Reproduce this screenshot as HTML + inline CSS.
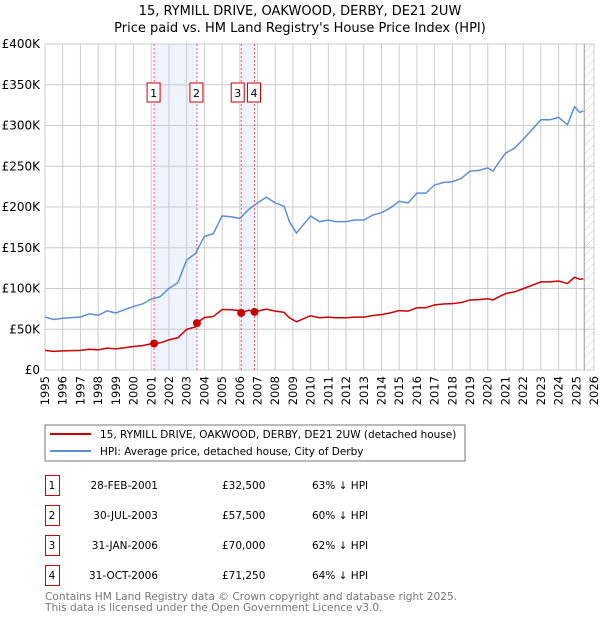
<!DOCTYPE html>
<html><head><meta charset="utf-8"><style>
body{margin:0;width:600px;height:620px;background:#fff;font-family:"DejaVu Sans","Liberation Sans",sans-serif;overflow:hidden}
svg text{font-family:"DejaVu Sans","Liberation Sans",sans-serif}
</style></head><body>
<svg id="c" width="600" height="620">
<defs><pattern id="hatch" width="6" height="6" patternUnits="userSpaceOnUse" patternTransform="rotate(45)"><line x1="0" y1="0" x2="0" y2="6" stroke="#ccc" stroke-width="1"/></pattern></defs>
<text x="300" y="15" font-size="13" text-anchor="middle">15, RYMILL DRIVE, OAKWOOD, DERBY, DE21 2UW</text>
<text x="300" y="32" font-size="13" text-anchor="middle">Price paid vs. HM Land Registry's House Price Index (HPI)</text>
<g id="grid"></g><g id="marks"></g>
<rect x="45" y="425" width="420" height="36" fill="#fff" stroke="#777"/>
<line x1="50" y1="434" x2="91" y2="434" stroke="#cc0000" stroke-width="2"/>
<text x="100" y="438" font-size="10.5">15, RYMILL DRIVE, OAKWOOD, DERBY, DE21 2UW (detached house)</text>
<line x1="50" y1="451" x2="91" y2="451" stroke="#5b8fd6" stroke-width="2"/>
<text x="100" y="455" font-size="10.5">HPI: Average price, detached house, City of Derby</text>
<g id="table" font-size="10.5"></g>
<text x="45" y="600" font-size="10.6" fill="#777">Contains HM Land Registry data © Crown copyright and database right 2025.</text>
<text x="45" y="611" font-size="10.6" fill="#777">This data is licensed under the Open Government Licence v3.0.</text>
</svg>
<script>
const hpiYears=[1995,1995.5,1996,1997,1997.5,1998,1998.5,1999,1999.5,2000,2000.5,2001,2001.5,2002,2002.5,2003,2003.5,2004,2004.5,2005,2005.5,2006,2006.5,2007,2007.5,2008,2008.5,2008.8,2009.2,2009.5,2010,2010.5,2011,2011.4,2012,2012.5,2013,2013.5,2014,2014.5,2015,2015.5,2016,2016.5,2017,2017.5,2018,2018.5,2019,2019.5,2020,2020.3,2020.6,2021,2021.5,2022,2022.5,2023,2023.5,2024,2024.5,2024.9,2025.2,2025.4];
const hpiValues=[65,62,63.5,65,69,67,72.5,70,74,78,81,87,90,100,107,135,143,164,167,189,188,186,197,205,212,205,201,182,168,176,189,182,184,182,182,184,184,190,193,199,207,205,217,217,227,230,231,235,244,245,248,244,254,266,272,283,295,307,307,310,301,323,316,318];
const saleLabels=["1","2","3","4"];
const saleYears=[2001.16,2003.58,2006.08,2006.83];
const salePrices=[32.5,57.5,70,71.25];
const saleDates=["28-FEB-2001","30-JUL-2003","31-JAN-2006","31-OCT-2006"];
const salePriceText=["£32,500","£57,500","£70,000","£71,250"];
const salePct=["63% ↓ HPI","60% ↓ HPI","62% ↓ HPI","64% ↓ HPI"];
const yTicks=[0,50,100,150,200,250,300,350,400];
const yTickLabels=["£0","£50K","£100K","£150K","£200K","£250K","£300K","£350K","£400K"];
const dataEnd=2025.45;

const X0=45,X1=594,Y0=370,Y1=44;
const xs=y=>X0+(y-1995)/31*(X1-X0);
const ys=v=>Y0-v/400*(Y0-Y1);
const NS='http://www.w3.org/2000/svg';
function mk(p,t,a){const e=document.createElementNS(NS,t);for(const k in a)e.setAttribute(k,a[k]);p.appendChild(e);return e;}
function hpiAt(y){if(y<=hpiYears[0])return hpiValues[0];for(let i=1;i<hpiYears.length;i++){if(y<=hpiYears[i]){const t=(y-hpiYears[i-1])/(hpiYears[i]-hpiYears[i-1]);return hpiValues[i-1]+t*(hpiValues[i]-hpiValues[i-1]);}}return hpiValues[hpiValues.length-1];}
const g=document.getElementById('grid'),m=document.getElementById('marks');
for(let i=0;i<saleYears.length;i+=2){const r=mk(g,'rect',{x:xs(saleYears[i]),y:Y1,width:xs(saleYears[i+1])-xs(saleYears[i]),height:Y0-Y1,fill:'#eef3fd'});

}
const h=mk(g,'rect',{x:xs(dataEnd),y:Y1,width:X1-xs(dataEnd),height:Y0-Y1,fill:'url(#hatch)'});


for(let yr=1995;yr<=2026;yr++){const l=mk(g,'line',{x1:xs(yr),x2:xs(yr),y1:Y1,y2:Y0,stroke:'#ccc'});


const t=mk(g,'text',{x:0,y:0,'font-size':11.5,'text-anchor':'end',transform:`translate(${xs(yr)+4},${Y0+6}) rotate(-90)`});t.textContent=yr;

}
yTicks.forEach((v,i)=>{const l=mk(g,'line',{x1:X0,x2:X1,y1:ys(v),y2:ys(v),stroke:'#ccc'});


const t=mk(g,'text',{x:X0-5,y:ys(v)+4,'font-size':12,'text-anchor':'end'});t.textContent=yTickLabels[i];

});
mk(g,'line',{x1:xs(dataEnd),x2:xs(dataEnd),y1:Y1,y2:Y0,stroke:'#999'});
const hp=mk(m,'polyline',{points:hpiYears.map((y,i)=>xs(y)+','+ys(hpiValues[i])).join(' '),fill:'none',stroke:'#5b8fd6','stroke-width':1.5});


const ratios=saleYears.map((y,i)=>salePrices[i]/hpiAt(y));
function ratioAt(y){let r=ratios[0];for(let i=0;i<saleYears.length;i++)if(y>=saleYears[i])r=ratios[i];return r;}
const pts=[];const allY=[...hpiYears,...saleYears].sort((a,b)=>a-b);
allY.forEach(y=>pts.push(xs(y)+','+ys(hpiAt(y)*ratioAt(y))));
const pl=mk(m,'polyline',{points:pts.join(' '),fill:'none',stroke:'#cc0000','stroke-width':1.5});


let prevBx=-100;
saleYears.forEach((y,i)=>{
const vl=mk(m,'line',{x1:xs(y),x2:xs(y),y1:Y1,y2:Y0,stroke:'#e06060','stroke-dasharray':'2,2'});


const d=mk(m,'circle',{cx:xs(y),cy:ys(salePrices[i]),r:4,fill:'#cc0000'});


let bx=xs(y)-7;
if(i<saleYears.length-1&&xs(saleYears[i+1])-xs(y)<20)bx=xs(y)-10;
if(bx<prevBx+13)bx=prevBx+13;
prevBx=bx;
const b=mk(m,'rect',{x:bx,y:83,width:13,height:19,fill:'#fff',stroke:'#cc0000'});


const t=mk(m,'text',{x:bx+6.5,y:97,'font-size':11,'text-anchor':'middle'});t.textContent=saleLabels[i];

});
const tb=document.getElementById('table');
saleLabels.forEach((s,i)=>{const y0=475+i*30;
const b=mk(tb,'rect',{x:45.5,y:y0+0.5,width:14,height:20,fill:'#fff',stroke:'#cc0000'});


const cells=[[52,s,'middle'],[158,saleDates[i],'end'],[222,salePriceText[i],'start'],[312,salePct[i],'start']];
cells.forEach(c=>{const t=mk(tb,'text',{x:c[0],y:y0+14,'text-anchor':c[2]});t.textContent=c[1];

});});
</script>
</body></html>
